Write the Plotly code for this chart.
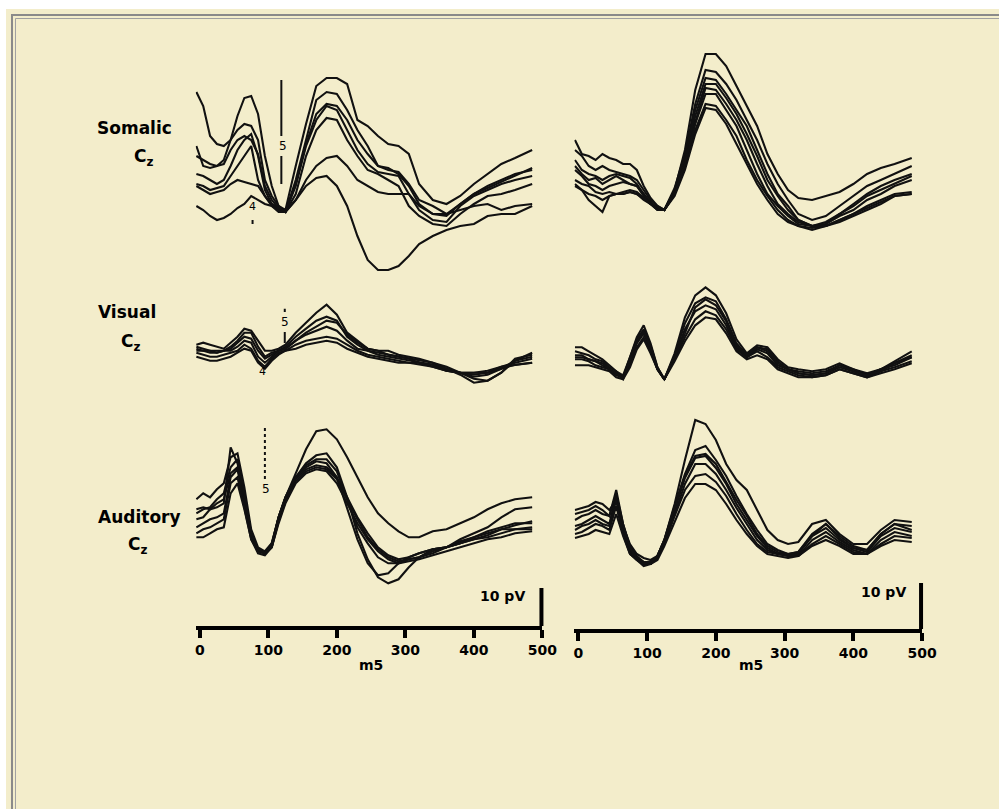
import plotly.graph_objects as go

W, H = 999, 809
# the photographed page comes out ~1.5 % narrower than the figure; positions below are
# given in photo pixels and converted with this factor
SQUASH = 0.985

# time axis (ms) shared by all traces
ms = [-5, 5, 15, 25, 35, 45, 55, 65, 75, 85, 95, 105, 115, 125, 140, 155, 170, 185, 200,
      215, 230, 245, 260, 275, 290, 305, 320, 340, 360, 380, 400, 420, 440, 460, 485]

# amplitudes (µV)
somatic_left = [
    [29.5,26,18.5,16.5,16,17.5,23.5,28,28.5,24,13.5,6,1,0,11,21.5,31,33,33,31.5,22.5,21,18.5,16.5,16,14,6.5,2.5,1.5,3.5,6.5,9,11.5,13,15],
    [16,11,10.5,11,12.5,17.5,20,21.5,21,17.5,7.5,3.5,1,-0.5,7.5,17.5,27.5,29.5,29,25,20,16,11,10,9.5,6.5,2.5,1,-1,1.5,4,6,7.5,9,10],
    [9,8.5,7.5,6.5,7.5,11,15,17.5,19,13.5,5,1.5,0.5,-0.5,6,16,22.5,26,25,20,15,11.5,9.5,9,8.5,4,0,-2.5,-3,1,3.5,5,6.5,7.5,8.5],
    [6.5,6,5,5.5,6,8.5,11,13.5,16,7.5,3.5,1,0,-0.5,4,13.5,20,23,22.5,17.5,13.5,10,9,7.5,6,1,-1.5,-3.5,-4,-1,1.5,3.5,4,5,6.5],
    [6,5,4,4.5,5,6.5,7.5,7,6.5,6,3.5,1.5,0.5,-0.5,2.5,7.5,11,13,13.5,11,7.5,6,4.5,4,4,4,1,-1,-1,0,1,1.5,0,1,1.5],
    [1,0,-1.5,-2.5,-2,-1,0.5,1.5,3.5,2.5,1.5,1,-0.5,-0.5,2.5,6,8,8.5,6,1,-6.5,-12.5,-15,-15,-14,-11.5,-8.5,-6.5,-5,-4,-3.5,-1.5,-1,-1,1],
    [13.5,12.5,11.5,11,11.5,15,17.5,18.5,17.5,14,6,2.5,0.5,-0.5,6.5,16.5,24,26.5,26,22.5,17.5,14,11,10.5,9,6,1.5,-1,-1.5,1.5,4,5.5,7,8.5,10.5],
]
somatic_right = [
    [17.5,14,13.5,12.5,14,13,12.5,11.5,11.5,10,6,3,1,0,5,15,30,39,39,36,31,26,21,14,9,5,3,2.5,3.5,4.5,6.5,9,10.5,11.5,13],
    [15,13.5,11,10,11,10,9.5,9,8.5,7.5,5,2.5,1,0,5.5,14,26.5,35,34.5,31.5,27.5,22.5,17.5,11.5,6.5,2.5,-1,-2.5,-1.5,1,3.5,6,7.5,9,11],
    [12.5,10,9,8.5,7.5,8.5,9,8.5,8,6.5,4,2,0.5,0,5,13.5,25,33,32.5,29,25,21,15,9,4,1,-2.5,-4,-3,-1,1.5,4,6,7.5,9],
    [11,9,7.5,8,6.5,7.5,8.5,7.5,6.5,6,4,1.5,0.5,0,4.5,12.5,23.5,31.5,31.5,28,24,19,13.5,7.5,3.5,0,-2.5,-4,-3.5,-1,1,3.5,5,6.5,8.5],
    [10,8.5,6.5,6,5,6,6.5,7,6.5,6,3.5,1.5,0.5,0,4,11.5,22,30.5,30,26.5,22.5,17.5,11.5,6,1.5,-1,-3,-4,-3.5,-1.5,0,2.5,4,6,7.5],
    [7.5,6.5,6,4.5,4,4.5,4,4.5,5,4.5,3,1.5,0.5,0,4,11,20,26.5,26,22.5,18.5,12.5,7.5,3.5,0,-2.5,-4,-5,-4,-3,-1.5,0,1.5,3.5,4],
    [6,5,4,3.5,2.5,3.5,4,4,4.5,4,2.5,1.5,0,0,3.5,10,19,25.5,25,21.5,16.5,11.5,6.5,2.5,-1,-3,-4,-4.5,-4,-2.5,-1,1,2.5,4,4.5],
    [6.5,5,2.5,1,-0.5,3.5,4,4,4.5,4,3,1.5,0,0,4,11.5,21.5,29,29,25,21,15,9,4,1,-1.5,-3.5,-4,-4,-2.5,-1,0.5,2,3.5,4],
]
visual_left = [
    [3,3.5,3,2.5,2,3.5,5,7,6.5,4,1.5,1.5,2,3,6,8.5,11,13,10.5,6,4,2,1.5,1.5,0.5,0,-0.5,-1.5,-2.5,-4,-5.5,-6,-4,-1,1],
    [2.5,2,1.5,1.5,1.5,2.5,4,6,6,2.5,0,1,1.5,2.5,5,7,9,10,9,5,3,1.5,1,0.5,0,-0.5,-1,-1.5,-3,-4,-5,-4.5,-3,-1,0],
    [2,1.5,1,1,1.5,1.5,2.5,4,3.5,0,-1.5,0,1.5,2,4,5.5,6.5,7.5,6.5,4,2,1.5,0.5,0,-0.5,-1,-1.5,-2,-3.5,-4,-4,-4,-2.5,-1.5,-0.5],
    [1,0.5,0,0,0.5,1,1.5,3,2,-1,-2.5,-0.5,1,1.5,3,4,4.5,5,4.5,3,1.5,0.5,0,-0.5,-1,-1.5,-1.5,-2.5,-3.5,-4,-4.5,-4,-3,-2,-1.5],
    [0,-0.5,-1,-1,-0.5,0,1,2,1.5,-1.5,-3,-1,0.5,1.5,2,3,3.5,4,3.5,2,1,0,-0.5,-1,-1.5,-1.5,-2,-2.5,-3.5,-4,-4,-3.5,-2.5,-2,-1.5],
    [1.5,1.5,1.5,1,1.5,2,3.5,5,4.5,1.5,-0.5,0.5,1.5,2,4,6,7.5,9,8.5,5.5,3.5,2,1.5,0.5,0,-0.5,-1.5,-2,-3,-4.5,-6.5,-6,-4,-0.5,0.5],
]
visual_right = [
    [4,4,3,2,1,-0.5,-2,-3.5,1.5,6.5,9.5,5,-1,-4,2.5,11.5,17,19,17,12.5,6,2.5,4.5,4,1,-1,-1.5,-2,-1.5,0,-1.5,-2.5,-1.5,0.5,3],
    [3,2.5,2,1,0.5,-1,-2,-3,1.5,6,8.5,4.5,-1,-4,2,10,15,16.5,15.5,11,5,2,4,3.5,0.5,-1.5,-2,-2.5,-2,-0.5,-1.5,-3,-1.5,0,2],
    [1.5,1.5,1,0.5,-0.5,-1.5,-2.5,-3.5,0.5,5,7.5,3.5,-1.5,-4,1.5,8.5,13,14.5,13.5,9.5,4,1.5,3.5,2.5,-0.5,-1.5,-2.5,-3,-2.5,-1,-2,-3,-1.5,-0.5,1.5],
    [1,1,0.5,-0.5,-1,-1.5,-3,-3.5,-0.5,4,6.5,3,-1.5,-4,1,6.5,11,13,12,8.5,3.5,1.5,3,1.5,-1,-2,-3,-3.5,-3,-1.5,-2.5,-3.5,-2,-1,0.5],
    [-0.5,-0.5,-0.5,-1,-1.5,-2,-3.5,-4,-1,3.5,6,2.5,-1.5,-4,0.5,5.5,9.5,11.5,11,7.5,3,1,2,1,-1.5,-2.5,-3.5,-3.5,-3,-1.5,-2.5,-3.5,-2.5,-1.5,0],
    [2,2,1,0.5,0,-1.5,-2.5,-4,1,5.5,8,4,-1.5,-4,1.5,7.5,14,16,14.5,10.5,4.5,2,4,3,0,-1.5,-2.5,-3,-2.5,-0.5,-2,-3,-2,0,1.5],
]
auditory_left = [
    [13.5,15,14,16,17.5,24,25,16.5,6,1.5,0.5,2.5,9,14,20,26,30.5,31,28.5,24,19,14,10,7.5,5.5,4,4,5.5,6,7.5,9,11,12.5,13.5,14],
    [10,11,11.5,13.5,15,21.5,23.5,14,5,1,0,2.5,9,14,19,22.5,24.5,25,21.5,14,5,-1.5,-6,-7.5,-6.5,-3.5,-1,1,1.5,3,4,5.5,6.5,7.5,7.5],
    [8.5,9,11,12.5,13.5,20,21.5,13.5,4,1,0,2,9,14,19,21.5,23,22.5,19,11.5,3.5,-2.5,-5.5,-5,-2.5,-1,0,1,1.5,2.5,3.5,4.5,6,6,6.5],
    [6.5,7.5,8.5,9,10,19,21,12.5,4,0.5,0,1.5,8.5,13.5,18.5,21,22,21.5,19,14,9,5,1.5,-0.5,-1.5,-1,0,1,1.5,2.5,4,5,6,7,8],
    [5,6,6.5,7.5,8.5,17.5,19,11.5,3.5,0.5,0,1.5,8,13,18,20.5,21.5,21,18.5,13.5,8.5,4,1,-1,-2,-1.5,-1,0,1.5,2.5,3.5,4,5,6,6],
    [4,4,5,6,6.5,15,17.5,11,3.5,0,-0.5,1.5,7.5,12.5,17.5,20,21,20.5,17.5,12.5,7.5,3.5,0.5,-1.5,-2.5,-2,-1.5,-0.5,0.5,1.5,2.5,3.5,4,5,5.5],
    [11,11.5,11,11.5,12.5,26.5,22.5,15,5,1,0,2,9,14,19,22,23.5,23.5,20.5,13.5,6.5,2.5,-1,-2.5,-2.5,-1.5,-1,0.5,1.5,3.5,5,6.5,9,11,11.5],
]
auditory_right = [
    [12.5,13,13.5,14.5,14,12.5,15,8.5,4,1.5,0.5,0,1,5,14,25,35,34,30,24,20,17.5,12.5,7.5,5,4,4.5,9,10,6.5,4,4,7.5,10,9.5],
    [10,11,11.5,12.5,11.5,11,16.5,9,3.5,1,-0.5,-0.5,1,5,13.5,21.5,27.5,28.5,25,21,16,11.5,7.5,4,2.5,1.5,2,6.5,9,6,3.5,2.5,6.5,9,8.5],
    [8.5,9,10,11,10,9,16,7.5,2.5,0.5,-1,-1,1,4.5,12.5,20.5,25.5,26,23,19,14,10,6,3,1.5,1.5,1.5,6,8,5,3,2,6,8,7],
    [7.5,8.5,9,10,9,8.5,15,7,2,0,-1,-1,0.5,4,11.5,19,24,24,21.5,17.5,13,9,5,2.5,1.5,1,1,5,7,4.5,2.5,1.5,5,7,6],
    [6.5,7,8,9,8.5,7.5,13.5,6.5,1.5,0,-1,-1,0.5,4,11,17.5,21,21.5,19.5,16,11.5,7.5,4,2,1.5,1,1,4,6,4,2,1.5,4,6,5.5],
    [5.5,6,6.5,7.5,7,6.5,11.5,6,1.5,0,-1.5,-1,0,3.5,9.5,15.5,19,19,17.5,14,10,6.5,3.5,1.5,1,0.5,1,3.5,5,3.5,1.5,1.5,3.5,5,4.5],
    [11.5,12,12.5,13.5,12.5,11,17.5,9,3,0.5,-0.5,-0.5,1,5,13,21,26,26.5,24,19.5,15,11,6.5,3.5,2,1.5,2,6,9,5.5,3,2.5,6.5,9,7.5],
]

tick_vals = [0, 100, 200, 300, 400, 500]
row_labels = ["Somalic", "Visual", "Auditory"]
x_title = "m5"
scale_label = "10 pV"

# ---------------- layout geometry (photo pixels) ----------------
BG = "#f3edcb"
INK = "#111111"
COLS = [(199.0, 0.686), (578.0, 0.688)]   # px of 0 ms, px per ms
X_RANGE = [-6, 500]
PX_PER_UV = 4.0
# data, column, baseline px, domain top px, domain bottom px
PANELS = [
    (somatic_left, 0, 210.0, 40, 300),
    (somatic_right, 1, 210.0, 40, 300),
    (visual_left, 0, 356.7, 285, 395),
    (visual_right, 1, 363.3, 278, 395),
    (auditory_left, 0, 553.3, 400, 626),
    (auditory_right, 1, 560.0, 400, 629),
]

def fx(px):
    return px / (W * SQUASH)

def fy(py):
    return 1 - py / H

fig = go.Figure()
layout = {}
for i, (data, col, base, top, bot) in enumerate(PANELS, start=1):
    sfx = "" if i == 1 else str(i)
    x0, k = COLS[col]
    xdom = [fx(x0 + k * X_RANGE[0]), fx(x0 + k * X_RANGE[1])]
    ydom = [fy(bot), fy(top)]
    yr = [(base - bot) / PX_PER_UV, (base - top) / PX_PER_UV]
    bottom = i >= 5
    xa = dict(domain=xdom, range=X_RANGE, anchor="y" + sfx, showgrid=False, zeroline=False,
              fixedrange=True)
    if bottom:
        xa.update(visible=True, showline=True, linecolor="black", linewidth=4,
                  ticks="outside", tickwidth=4, ticklen=8, tickcolor="black",
                  tickvals=tick_vals, ticktext=[str(v) for v in tick_vals],
                  tickfont=dict(family="DejaVu Sans", size=14, color="black", weight="bold"))
    else:
        xa.update(visible=False)
    ya = dict(domain=ydom, range=yr, anchor="x" + sfx, visible=False, fixedrange=True)
    layout["xaxis" + sfx] = xa
    layout["yaxis" + sfx] = ya
    for tr in data:
        assert len(tr) == len(ms)
        fig.add_trace(go.Scatter(x=ms, y=tr, xaxis="x" + sfx, yaxis="y" + sfx, mode="lines",
                                 line=dict(color=INK, width=2.1), showlegend=False,
                                 hoverinfo="skip", cliponaxis=False))

shapes = [
    # white outer strips of the page
    dict(type="rect", xref="paper", yref="paper", x0=-0.05, x1=1.1, y0=fy(9), y1=1.05,
         fillcolor="white", line_width=0, layer="below"),
    dict(type="rect", xref="paper", yref="paper", x0=-0.05, x1=fx(5), y0=-0.05, y1=1.05,
         fillcolor="white", line_width=0, layer="below"),
    # frame
    dict(type="rect", xref="paper", yref="paper", x0=fx(11), x1=1.2, y0=-0.2, y1=fy(15),
         line=dict(color="#8a8a8a", width=2), fillcolor="rgba(0,0,0,0)"),
    dict(type="rect", xref="paper", yref="paper", x0=fx(14.5), x1=1.2, y0=-0.2, y1=fy(18.5),
         line=dict(color="#a0a0a0", width=1), fillcolor="rgba(0,0,0,0)"),
    # 10 µV scale bars
    dict(type="line", xref="paper", yref="paper", x0=fx(541), x1=fx(541), y0=fy(588), y1=fy(626),
         line=dict(color="black", width=4)),
    dict(type="line", xref="paper", yref="paper", x0=fx(921), x1=fx(921), y0=fy(583), y1=fy(629),
         line=dict(color="black", width=4)),
    # stimulus markers (data coordinates of their panels)
    dict(type="line", xref="x", yref="y", x0=119, x1=119, y0=32.5, y1=18.5, line=dict(color=INK, width=2)),
    dict(type="line", xref="x", yref="y", x0=119, x1=119, y0=13.5, y1=6.5, line=dict(color=INK, width=2)),
    dict(type="line", xref="x", yref="y", x0=77, x1=77, y0=-2.5, y1=-3.5, line=dict(color=INK, width=2)),
    dict(type="line", xref="x3", yref="y3", x0=124, x1=124, y0=12, y1=11.2, line=dict(color=INK, width=2)),
    dict(type="line", xref="x3", yref="y3", x0=124, x1=124, y0=6.2, y1=3.4, line=dict(color=INK, width=2)),
    dict(type="line", xref="x5", yref="y5", x0=95, x1=95, y0=31.3, y1=17.8,
         line=dict(color=INK, width=2, dash="dot")),
]

def ann(text, px, py, size=14, bold=True, xanchor="center"):
    return dict(text=text, x=fx(px), y=fy(py), xref="paper", yref="paper", showarrow=False,
                xanchor=xanchor, yanchor="middle",
                font=dict(family="DejaVu Sans", size=size, color="black",
                          weight="bold" if bold else "normal"))

annotations = [
    ann(row_labels[0], 134, 128, size=17),
    ann("C<sub>z</sub>", 143, 157, size=17),
    ann(row_labels[1], 126, 312, size=17),
    ann("C<sub>z</sub>", 130, 342, size=17),
    ann(row_labels[2], 139, 517, size=17),
    ann("C<sub>z</sub>", 137, 545, size=17),
    ann(x_title, 370, 665, size=14),
    ann(x_title, 751, 665, size=14),
    ann(scale_label, 527, 596, size=14, xanchor="right"),
    ann(scale_label, 908, 592, size=14, xanchor="right"),
    # stimulus marker labels
    ann("5", 282, 146, size=12, bold=False),
    ann("4", 252, 207, size=11, bold=False),
    ann("5", 284, 322, size=12, bold=False),
    ann("4", 262, 371, size=11, bold=False),
    ann("5", 265, 489, size=12, bold=False),
]

fig.update_layout(
    width=W, height=H, autosize=False,
    margin=dict(l=0, r=0, t=0, b=0, pad=0),
    paper_bgcolor=BG, plot_bgcolor="rgba(0,0,0,0)",
    shapes=shapes, annotations=annotations,
    showlegend=False,
    **layout,
)

fig.write_html(
    "out.html",
    config={"displayModeBar": False},
    post_script="document.body.style.margin='0';document.body.style.overflow='hidden';",
)
